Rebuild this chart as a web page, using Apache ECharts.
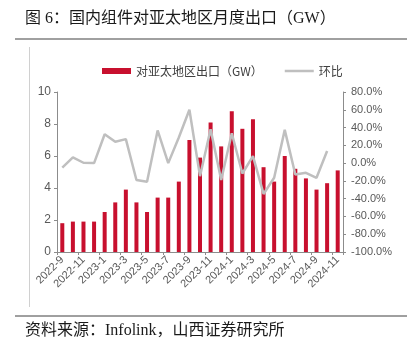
<!DOCTYPE html>
<html><head><meta charset="utf-8">
<script src="https://cdn.jsdelivr.net/npm/echarts@6/dist/echarts.min.js"></script>
<style>html,body{margin:0;padding:0;background:#fff}#c{width:420px;height:350px}</style>
</head><body><div id="c"></div>
<script>
var categories = ['2022-9','2022-10','2022-11','2022-12','2023-1','2023-2','2023-3','2023-4','2023-5','2023-6','2023-7','2023-8','2023-9','2023-10','2023-11','2023-12','2024-1','2024-2','2024-3','2024-4','2024-5','2024-6','2024-7','2024-8','2024-9','2024-10','2024-11'];
var exportGW = [1.8,1.9,1.9,1.9,2.5,3.1,3.9,3.1,2.5,3.4,3.4,4.4,7.0,5.9,8.1,6.6,8.8,7.7,8.3,5.3,4.4,6.0,5.2,4.6,3.9,4.3,5.1];
var momPct = [-5,6.5,0.4,0,32.5,24,27,-19,-21,36.7,0,28.8,60,-14.7,38,-19,33.6,-11.7,7.9,-34.7,-16.5,37.4,-12.8,-10.9,-16.5,13.6,null];
var leftTicks = {min:0, max:10, interval:2};
var rightTicks = {min:-100, max:80, interval:20};

var chart = echarts.init(document.getElementById('c'));
var axisGray = '#8c8c8c';
var labelGray = '#595959';
var font = '"Liberation Sans", Arial, sans-serif';
chart.setOption({
  animation:false,
  graphic:[
    {type:'text', left:25, top:11, style:{text:'图 6：国内组件对亚太地区月度出口（GW）', font:'16px "Liberation Serif", "Noto Sans CJK SC"', fill:'#1a1a1a'}},
    {type:'line', shape:{x1:15,y1:39,x2:407,y2:39}, style:{stroke:'#808080', lineWidth:1.5}},
    {type:'line', shape:{x1:29.5,y1:47,x2:29.5,y2:307}, style:{stroke:'#d0d0d0', lineWidth:1}},
    {type:'line', shape:{x1:15,y1:316,x2:407,y2:316}, style:{stroke:'#404040', lineWidth:1}},
    {type:'text', left:25, top:323, style:{text:'资料来源：Infolink，山西证券研究所', font:'16px "Liberation Serif", "Noto Sans CJK SC"', fill:'#1a1a1a'}}
  ],
  legend:{
    left:97, top:60, itemGap:22, symbolKeepAspect:true,
    textStyle:{color:'#404040', fontSize:12, fontFamily:'"Noto Sans CJK SC"'},
    data:[
      {name:'对亚太地区出口（GW）', icon:'rect'},
      {name:'环比', icon:'path://M0,0L30,0L30,2.6L0,2.6Z'}
    ],
    itemWidth:29, itemHeight:6
  },
  grid:{left:57, right:77, top:92, bottom:98},
  xAxis:{
    type:'category', data:categories, boundaryGap:true,
    axisLine:{lineStyle:{color:axisGray, width:1}},
    axisTick:{show:true, length:3, lineStyle:{color:axisGray}},
    axisLabel:{interval:1, rotate:45, color:labelGray, fontSize:11, fontFamily:font, margin:6}
  },
  yAxis:[
    {type:'value', min:leftTicks.min, max:leftTicks.max, interval:leftTicks.interval,
     axisLine:{show:true, lineStyle:{color:axisGray}},
     axisTick:{show:true, length:3, lineStyle:{color:axisGray}},
     splitLine:{show:false},
     axisLabel:{color:labelGray, fontSize:12, fontFamily:font, margin:6}},
    {type:'value', min:rightTicks.min, max:rightTicks.max, interval:rightTicks.interval,
     axisLine:{show:true, lineStyle:{color:axisGray}},
     axisTick:{show:true, length:3, lineStyle:{color:axisGray}},
     splitLine:{show:false},
     axisLabel:{color:labelGray, fontSize:11, fontFamily:font, margin:8,
       formatter:function(v){return v.toFixed(1)+'%';}}}
  ],
  series:[
    {name:'对亚太地区出口（GW）', type:'bar', data:exportGW, barWidth:4, itemStyle:{color:'#c8102e'}, yAxisIndex:0},
    {name:'环比', type:'line', data:momPct, yAxisIndex:1, symbol:'none', lineStyle:{color:'#bfbfbf', width:2.5}, itemStyle:{color:'#bfbfbf'}, z:3}
  ]
});
</script></body></html>
